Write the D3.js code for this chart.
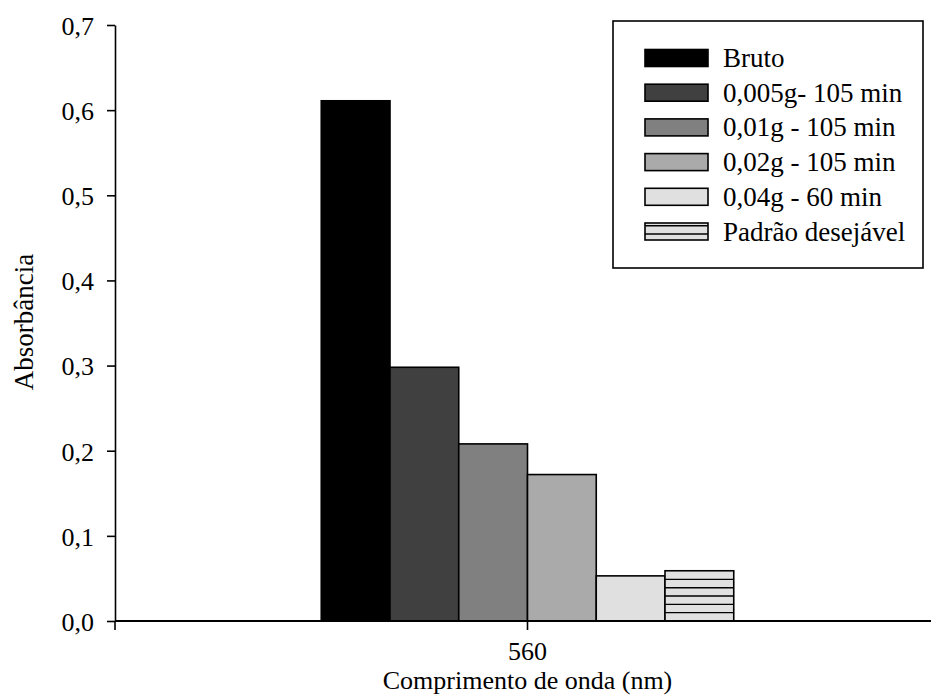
<!DOCTYPE html>
<html>
<head>
<meta charset="utf-8">
<script src="https://cdn.jsdelivr.net/npm/d3@7/dist/d3.min.js"></script>
<style>
  html, body { margin: 0; padding: 0; background: #fff; }
  svg { display: block; }
  text { font-family: "Liberation Serif", "Times New Roman", serif; fill: #000; }
</style>
</head>
<body>
<svg id="chart" width="931" height="695"></svg>
<script>
const categories = ["560"];
const seriesNames = ["Bruto", "0,005g- 105 min", "0,01g - 105 min", "0,02g - 105 min", "0,04g - 60 min", "Padrão desejável"];
const seriesValues = [0.611, 0.298, 0.208, 0.172, 0.053, 0.059];
const seriesColors = ["#000000", "#404040", "#808080", "#aaaaaa", "#e0e0e0", "#e0e0e0"];
const seriesHatched = [false, false, false, false, false, true];
const yTicks = [0.0, 0.1, 0.2, 0.3, 0.4, 0.5, 0.6, 0.7];

(function () {
const svg = d3.select("#chart");
const mLeft = 115, mRight = 931, mTop = 25, mBottom = 621;
const serif = "'Liberation Serif', 'Times New Roman', serif";

const x = d3.scaleBand().domain(categories).range([mLeft, 940]).paddingInner(0).paddingOuter(0.5);
const xs = d3.scaleBand().domain(seriesNames).range([0, x.bandwidth()]).padding(0);
const y = d3.scaleLinear().domain([0, 0.7]).range([mBottom, mTop]);

// bars
const g = svg.append("g");
categories.forEach(cat => {
  seriesNames.forEach((s, i) => {
    const bx = x(cat) + xs(s);
    const by = y(seriesValues[i]);
    const bw = xs.bandwidth();
    const bh = y(0) - by;
    g.append("rect")
      .attr("x", bx).attr("y", by).attr("width", bw).attr("height", bh)
      .attr("fill", seriesColors[i])
      .attr("stroke", "#000").attr("stroke-width", 1.6);
    if (seriesHatched[i]) {
      const step = 8.33;
      for (let ly = y(0) - step; ly > by + 3; ly -= step) {
        g.append("line").attr("x1", bx).attr("x2", bx + bw).attr("y1", ly).attr("y2", ly)
          .attr("stroke", "#000").attr("stroke-width", 1.4);
      }
    }
  });
});

// y axis
const fmt = d => d.toFixed(1).replace(".", ",");
const yAxis = svg.append("g").attr("transform", `translate(${mLeft},0)`)
  .call(d3.axisLeft(y).tickValues(yTicks).tickFormat(fmt).tickSize(8).tickSizeOuter(0));
yAxis.select(".domain").attr("stroke", "#000").attr("stroke-width", 1.6);
yAxis.selectAll(".tick line").attr("stroke", "#000").attr("stroke-width", 1.6);
yAxis.selectAll(".tick text").attr("font-size", 26).attr("x", -21).attr("dy", "0.36em")
  .style("font-family", serif);

// x axis
const xAxis = svg.append("g").attr("transform", `translate(0,${mBottom})`)
  .call(d3.axisBottom(x).tickSize(9).tickSizeOuter(0));
xAxis.select(".domain").attr("d", `M${mLeft},0H${mRight}`).attr("stroke", "#000").attr("stroke-width", 2);
xAxis.selectAll(".tick line").attr("stroke", "#000").attr("stroke-width", 1.6);
xAxis.selectAll(".tick text").attr("font-size", 26).attr("y", 39).attr("dy", 0)
  .style("font-family", serif);
svg.append("line").attr("x1", mLeft).attr("x2", mLeft).attr("y1", mBottom).attr("y2", mBottom + 9)
  .attr("stroke", "#000").attr("stroke-width", 1.6);

// axis titles
svg.append("text").attr("x", x(categories[0]) + x.bandwidth() / 2).attr("y", 689)
  .attr("text-anchor", "middle").attr("font-size", 26).text("Comprimento de onda (nm)");
svg.append("text").attr("transform", "translate(33,322) rotate(-90)")
  .attr("text-anchor", "middle").attr("font-size", 27).text("Absorbância");

// legend
const lg = svg.append("g");
lg.append("rect").attr("x", 613).attr("y", 21).attr("width", 310).attr("height", 247)
  .attr("fill", "#fff").attr("stroke", "#000").attr("stroke-width", 1.6);
seriesNames.forEach((s, i) => {
  const cy = 58 + i * 34.7;
  const sx = 645, sw = 63, sh = 17;
  lg.append("rect").attr("x", sx).attr("y", cy - sh / 2).attr("width", sw).attr("height", sh)
    .attr("fill", seriesColors[i]).attr("stroke", "#000").attr("stroke-width", 1.6);
  if (seriesHatched[i]) {
    [cy - 5.8, cy + 2.5].forEach(ly => {
      lg.append("line").attr("x1", sx).attr("x2", sx + sw).attr("y1", ly).attr("y2", ly)
        .attr("stroke", "#000").attr("stroke-width", 1.4);
    });
  }
  lg.append("text").attr("x", 723).attr("y", cy + 9).attr("font-size", 27).text(s);
});
})();
</script>
</body>
</html>
